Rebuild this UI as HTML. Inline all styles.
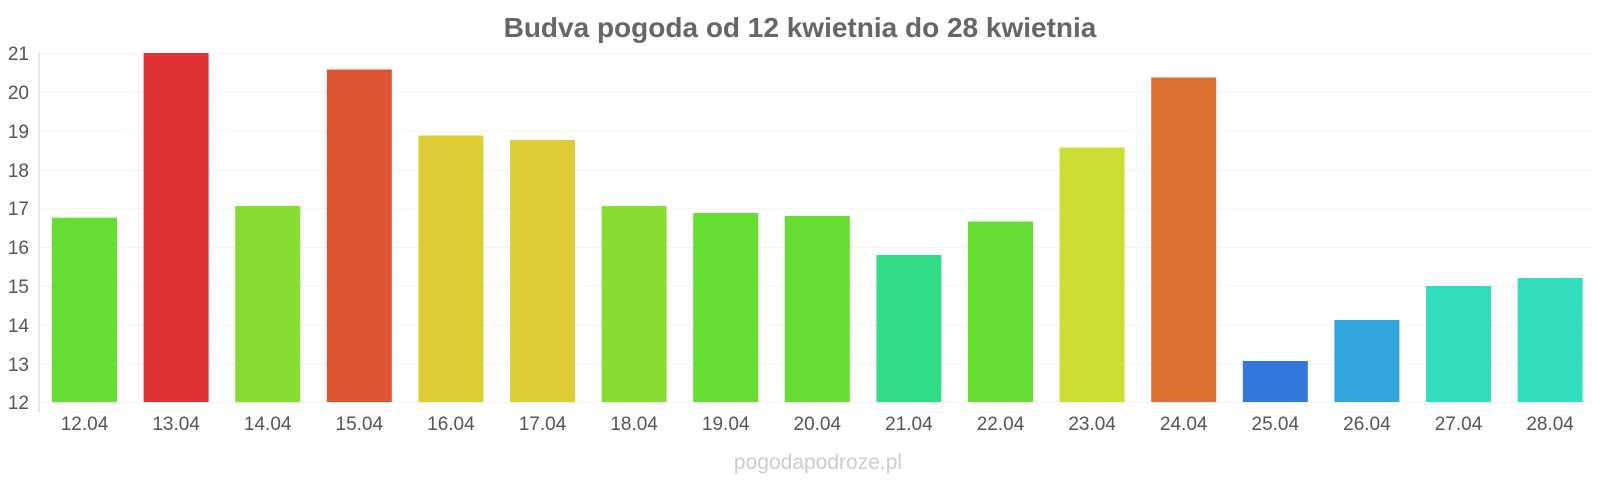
<!DOCTYPE html>
<html><head><meta charset="utf-8"><style>
html,body{margin:0;padding:0;background:#fff;}
svg{display:block;font-family:"Liberation Sans",sans-serif;}
</style></head><body>
<svg width="1600" height="480" viewBox="0 0 1600 480">
<text x="800" y="37" text-anchor="middle" font-size="28" font-weight="bold" fill="#666">Budva pogoda od 12 kwietnia do 28 kwietnia</text>
<g stroke="#f2f2f2" stroke-width="1">
<line x1="39" x2="1592" y1="53.5" y2="53.5"/>
<line x1="39" x2="1592" y1="92.3" y2="92.3"/>
<line x1="39" x2="1592" y1="131.1" y2="131.1"/>
<line x1="39" x2="1592" y1="169.9" y2="169.9"/>
<line x1="39" x2="1592" y1="208.7" y2="208.7"/>
<line x1="39" x2="1592" y1="247.5" y2="247.5"/>
<line x1="39" x2="1592" y1="286.3" y2="286.3"/>
<line x1="39" x2="1592" y1="325.1" y2="325.1"/>
<line x1="39" x2="1592" y1="363.9" y2="363.9"/>
<line x1="39" x2="1592" y1="402.5" y2="402.5"/>
</g>
<line x1="39" x2="39" y1="53" y2="412" stroke="#ccc" stroke-width="1"/>
<g font-size="19" fill="#555" text-anchor="end">
<text x="29" y="60">21</text><text x="29" y="99">20</text><text x="29" y="138">19</text>
<text x="29" y="177">18</text><text x="29" y="215">17</text><text x="29" y="254">16</text>
<text x="29" y="293">15</text><text x="29" y="332">14</text><text x="29" y="371">13</text>
<text x="29" y="409">12</text>
</g>
<g>
<rect x="52" y="217.7" width="65" height="184.3" fill="#66dd33"/>
<rect x="143.6" y="53" width="65" height="349" fill="#dd3333"/>
<rect x="235.2" y="206" width="65" height="196" fill="#88dd33"/>
<rect x="326.8" y="69.5" width="65" height="332.5" fill="#dd5533"/>
<rect x="418.4" y="135.5" width="65" height="266.5" fill="#ddcc33"/>
<rect x="510" y="140" width="65" height="262" fill="#ddcc33"/>
<rect x="601.6" y="206" width="65" height="196" fill="#88dd33"/>
<rect x="693.2" y="213" width="65" height="189" fill="#66dd33"/>
<rect x="784.8" y="216" width="65" height="186" fill="#66dd33"/>
<rect x="876.4" y="255" width="65" height="147" fill="#33dd88"/>
<rect x="968" y="221.5" width="65" height="180.5" fill="#66dd33"/>
<rect x="1059.6" y="147.5" width="65" height="254.5" fill="#ccdd33"/>
<rect x="1151.2" y="77.5" width="65" height="324.5" fill="#dd7033"/>
<rect x="1242.8" y="361" width="65" height="41" fill="#3377dd"/>
<rect x="1334.4" y="320" width="65" height="82" fill="#33a5dd"/>
<rect x="1426" y="286" width="65" height="116" fill="#33ddbb"/>
<rect x="1517.6" y="278" width="65" height="124" fill="#33ddbb"/>
</g>
<g font-size="19" fill="#555" text-anchor="middle">
<text x="84.5" y="430">12.04</text><text x="176.1" y="430">13.04</text><text x="267.7" y="430">14.04</text>
<text x="359.3" y="430">15.04</text><text x="450.9" y="430">16.04</text><text x="542.5" y="430">17.04</text>
<text x="634.1" y="430">18.04</text><text x="725.7" y="430">19.04</text><text x="817.3" y="430">20.04</text>
<text x="908.9" y="430">21.04</text><text x="1000.5" y="430">22.04</text><text x="1092.1" y="430">23.04</text>
<text x="1183.7" y="430">24.04</text><text x="1275.3" y="430">25.04</text><text x="1366.9" y="430">26.04</text>
<text x="1458.5" y="430">27.04</text><text x="1550.1" y="430">28.04</text>
</g>
<text x="818" y="469" text-anchor="middle" font-size="21" fill="#ccc">pogodapodroze.pl</text>
</svg>
</body></html>
